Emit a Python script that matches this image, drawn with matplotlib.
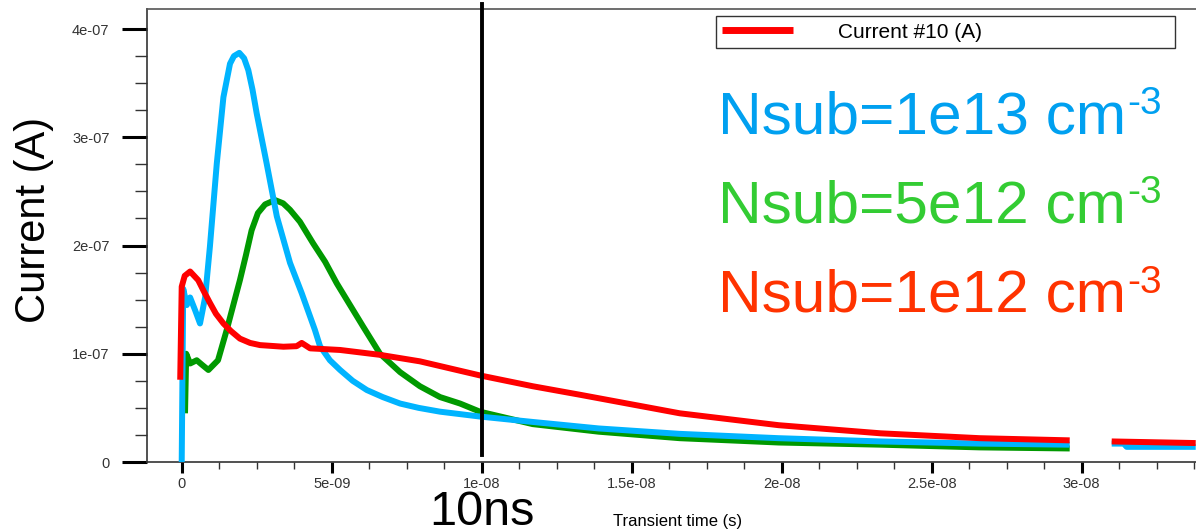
import numpy as np
import matplotlib
matplotlib.use("Agg")
import matplotlib.pyplot as plt
from matplotlib.ticker import MultipleLocator

plt.rcParams["font.family"] = ["Liberation Sans", "DejaVu Sans"]

C_RED = "#FF0000"
C_GREEN = "#009900"
C_BLUE = "#00B4FF"

# time in ns, current in 1e-7 A (nan = gap in the exported data)
t_blue = [0.0, 0.05, 0.17, 0.28, 0.45, 0.61, 0.78, 0.94, 1.17, 1.39, 1.61, 1.74,
          1.92, 2.08, 2.22, 2.36, 2.5, 2.83, 3.17, 3.61, 4.0, 4.44, 4.61, 4.94,
          5.28, 5.7, 6.17, 6.7, 7.28, 7.9, 8.61, 9.94, 11.7, 13.9, 16.6, 19.9,
          23.3, 26.6, 29.6, np.nan, 31.0, 31.4, 31.5, 33.8]
i_blue = [0.0, 1.6, 1.45, 1.52, 1.4, 1.28, 1.52, 1.99, 2.76, 3.37, 3.68, 3.75,
          3.78, 3.73, 3.62, 3.44, 3.22, 2.76, 2.27, 1.84, 1.56, 1.22, 1.07, 0.94,
          0.85, 0.75, 0.665, 0.6, 0.54, 0.5, 0.465, 0.42, 0.37, 0.31, 0.26, 0.22,
          0.19, 0.17, 0.16, np.nan, 0.17, 0.17, 0.14, 0.14]

t_green = [0.11, 0.15, 0.28, 0.5, 0.67, 0.89, 1.21, 1.5, 1.94, 2.14, 2.33, 2.54,
           2.78, 3.11, 3.38, 3.61, 3.94, 4.38, 4.78, 5.17, 5.61, 6.05, 6.61,
           7.28, 7.94, 8.61, 9.28, 9.94, 11.7, 13.9, 16.6, 19.9, 23.3, 26.6, 29.6]
i_green = [0.45, 1.0, 0.91, 0.94, 0.9, 0.85, 0.94, 1.22, 1.68, 1.91, 2.14, 2.3,
           2.38, 2.42, 2.39, 2.33, 2.22, 2.02, 1.85, 1.65, 1.45, 1.25, 1.0,
           0.83, 0.70, 0.60, 0.54, 0.465, 0.35, 0.28, 0.22, 0.18, 0.16, 0.135, 0.125]

t_red = [-0.05, 0.0, 0.1, 0.28, 0.55, 0.75, 0.94, 1.14, 1.39, 1.64, 1.94, 2.28,
         2.61, 3.39, 3.83, 4.0, 4.28, 5.28, 6.61, 7.94, 9.94, 11.7, 13.3, 16.6,
         19.9, 23.3, 26.6, 29.6, np.nan, 31.0, 33.8]
i_red = [0.76, 1.62, 1.72, 1.76, 1.68, 1.57, 1.47, 1.37, 1.28, 1.21, 1.14, 1.10,
         1.08, 1.065, 1.07, 1.10, 1.05, 1.035, 0.99, 0.93, 0.80, 0.70, 0.62, 0.45,
         0.34, 0.265, 0.22, 0.20, np.nan, 0.19, 0.175]

labels = ["Nsub=1e13 cm", "Nsub=5e12 cm", "Nsub=1e12 cm"]
label_colors = ["#00A0F0", "#33CC33", "#FF3300"]
marker_t = 10.0  # ns


def main():
    fig = plt.figure(figsize=(11.96, 5.31), dpi=100)
    ax = fig.add_axes([147 / 1196, 69 / 531, 1 - 147 / 1196, 453.3 / 531])

    ns, ua = 1e-9, 1e-7
    ax.plot(np.array(t_green) * ns, np.array(i_green) * ua, color=C_GREEN,
            lw=4.3, zorder=2, solid_capstyle="butt")
    ax.plot(np.array(t_blue) * ns, np.array(i_blue) * ua, color=C_BLUE,
            lw=4.3, zorder=3, solid_capstyle="butt")
    ax.plot(np.array(t_red) * ns, np.array(i_red) * ua, color=C_RED,
            lw=4.3, zorder=4, solid_capstyle="butt", label="Current #10 (A)")

    ax.axvline(marker_t * ns, ymin=0.015, ymax=1.01, color="black", lw=2.8,
               clip_on=False, zorder=5)

    ax.set_xlim(-0.1157e-8, 3.381e-8)
    ax.set_ylim(0, 4.188e-7)

    ax.set_xticks([0, 5e-9, 1e-8, 1.5e-8, 2e-8, 2.5e-8, 3e-8])
    ax.set_xticklabels(["0", "5e-09", "1e-08", "1.5e-08", "2e-08", "2.5e-08", "3e-08"])
    ax.set_yticks([0, 1e-7, 2e-7, 3e-7, 4e-7])
    ax.set_yticklabels(["0", "1e-07", "2e-07", "3e-07", "4e-07"])
    ax.xaxis.set_minor_locator(MultipleLocator(1.25e-9))
    ax.yaxis.set_minor_locator(MultipleLocator(0.25e-7))

    ax.tick_params(axis="y", which="major", length=18, width=2.2, color="black",
                   labelsize=10.5, labelcolor="#333333", pad=9)
    ax.tick_params(axis="y", which="minor", length=9, width=1, color="#333333")
    ax.tick_params(axis="x", which="major", length=8, width=2.2, color="black",
                   labelsize=10.5, labelcolor="#333333", pad=3)
    ax.tick_params(axis="x", which="minor", length=5, width=1, color="#333333")

    for side in ["left", "bottom"]:
        ax.spines[side].set_color("#333333")
        ax.spines[side].set_linewidth(1.2)
    ax.spines["top"].set_color("#555555")
    ax.spines["top"].set_linewidth(1.2)
    ax.spines["right"].set_visible(False)

    ax.set_ylabel("Current (A)", fontsize=30)
    ax.yaxis.set_label_coords(-0.089, 0.534)
    ax.set_xlabel("Transient time (s)", fontsize=12)
    ax.xaxis.set_label_coords(0.506, -0.115)

    ax.text(marker_t * ns, -0.138, "10ns", transform=ax.get_xaxis_transform(),
            ha="center", va="baseline", fontsize=35)

    leg = ax.legend(loc="upper left", bbox_to_anchor=(716 / 1196, 1 - 17 / 531, 459 / 1196, 0.001),
                    bbox_transform=fig.transFigure, mode="expand", fontsize=15,
                    frameon=True, fancybox=False, handlelength=3.4,
                    handletextpad=2.15, borderpad=0.3, borderaxespad=0)
    leg.get_frame().set_edgecolor("black")
    leg.get_frame().set_linewidth(1.0)
    leg.get_lines()[0].set_linewidth(5)

    for k, (txt, col) in enumerate(zip(labels, label_colors)):
        base = fig.text(718 / 1196, 1 - (133 + 89.5 * k) / 531, txt, color=col,
                        fontsize=43.5, ha="left", va="baseline")
        ax.annotate("-3", xy=(1.0, 1.0), xycoords=base, xytext=(1, 3),
                    textcoords="offset points", color=col, fontsize=28,
                    ha="left", va="top", annotation_clip=False)

    fig.savefig("out.png", dpi=100, facecolor="white")


if __name__ == "__main__":
    main()
